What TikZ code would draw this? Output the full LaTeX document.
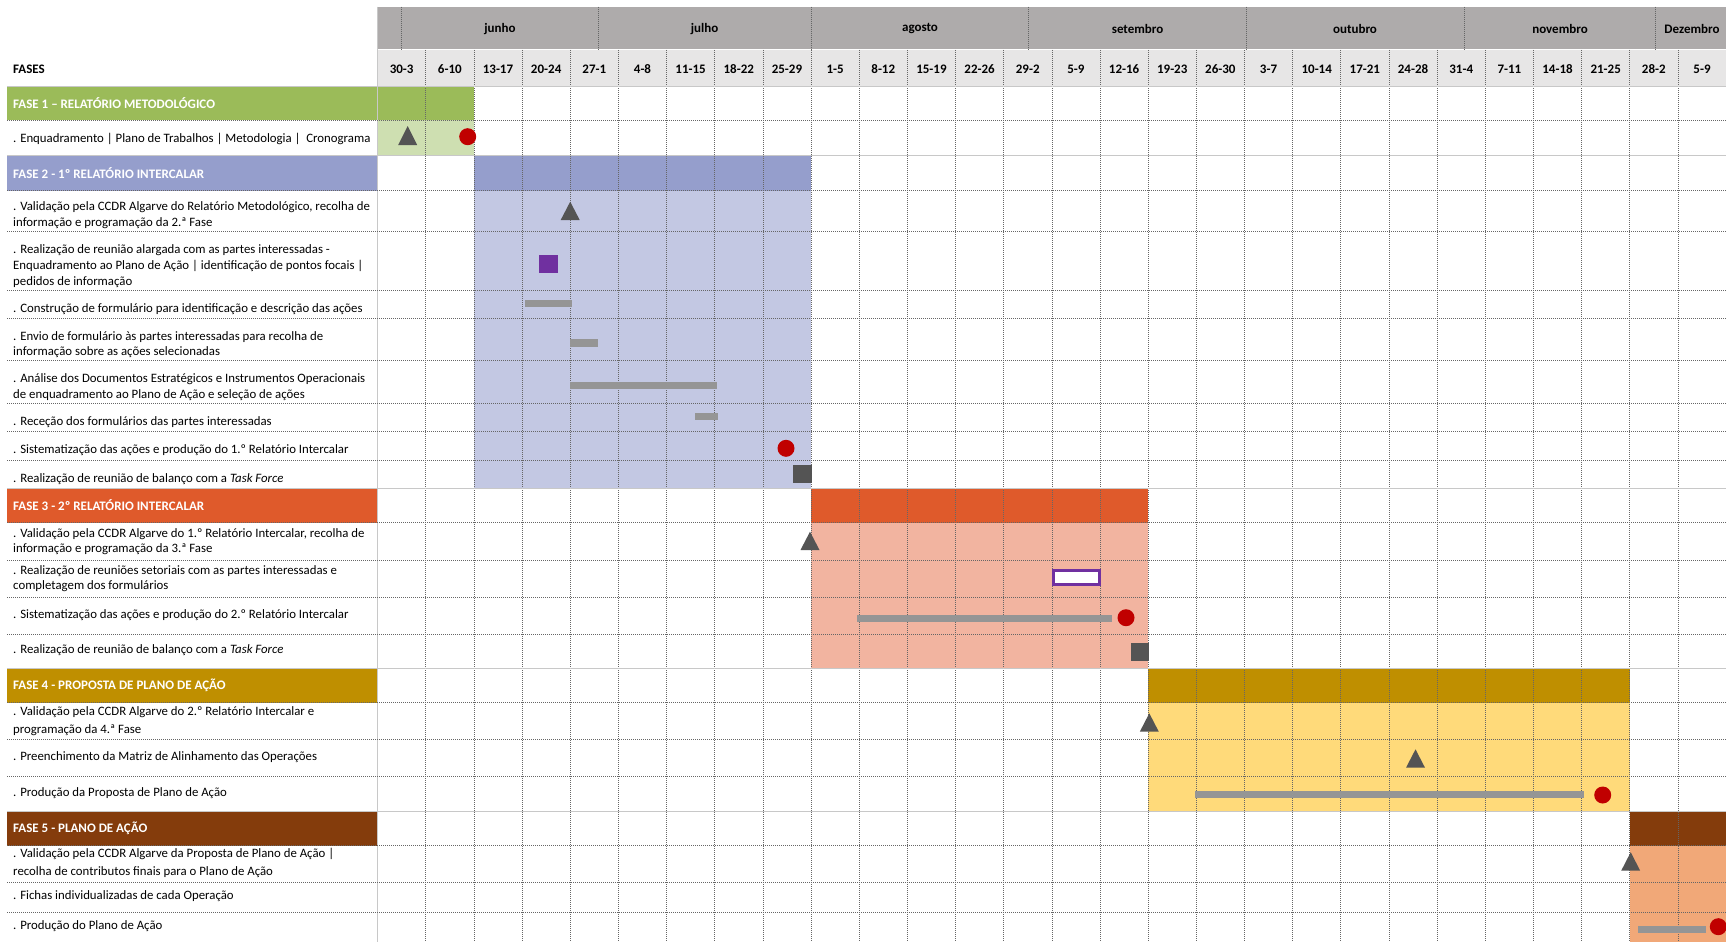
\documentclass[tikz,border=0pt]{standalone}
\usepackage{fontspec}
\setmainfont{Carlito}
\definecolor{monthgray}{HTML}{AEABAB}
\definecolor{weekgray}{HTML}{E7E6E6}
\definecolor{fAd}{HTML}{9BBB59}
\definecolor{fAl}{HTML}{CEDFB1}
\definecolor{fBd}{HTML}{959ECC}
\definecolor{fBl}{HTML}{C3C8E3}
\definecolor{fCd}{HTML}{DF5A2B}
\definecolor{fCl}{HTML}{F2B4A0}
\definecolor{fDd}{HTML}{BF8F00}
\definecolor{fDl}{HTML}{FFDA7A}
\definecolor{fEd}{HTML}{843C0C}
\definecolor{fEl}{HTML}{F1A878}
\definecolor{markdark}{HTML}{545454}
\definecolor{bargray}{HTML}{959595}
\definecolor{markred}{HTML}{C00000}
\definecolor{markpurple}{HTML}{7030A0}
\definecolor{gridline}{HTML}{666666}
\definecolor{solidline}{HTML}{C8C8C8}
\newcommand{\cx}[1]{377.6+48.16*#1}
\newcommand{\mytri}[3]{\fill[markdark] ({#1-9.5},#3) -- (#1,#2) -- ({#1+9.5},#3) -- cycle;}
\begin{document}
\begin{tikzpicture}[x=1pt,y=-1pt,
  rowtxt/.style={anchor=west, align=left, inner sep=0pt, font=\fontsize{12.8}{15.7}\selectfont},
  rowtxtw/.style={anchor=west, align=left, inner sep=0pt, font=\fontsize{12.8}{18}\selectfont},
  phasetxt/.style={anchor=west, inner sep=0pt, text=white, font=\fontsize{13}{15.7}\selectfont\bfseries},
  hdr/.style={inner sep=0pt, font=\fontsize{13}{15.7}\selectfont\bfseries},
  gridv/.style={gridline, line width=0.7pt, dash pattern=on 1pt off 1pt},
  gridh/.style={gridline, line width=0.7pt, dash pattern=on 1pt off 1pt},
  solidh/.style={solidline, line width=1pt},
  gbar/.style={fill=bargray},
  reddot/.style={fill=markred},
  darksq/.style={fill=markdark}]
\useasboundingbox (0,0) rectangle (1726,942);
\fill[white] (0,0) rectangle (1726,942);
% header
\fill[monthgray] (377.6,6.7) rectangle (1726,50);
\fill[weekgray] (377.6,50) rectangle (1726,86);
\draw[white, line width=1pt] (377.6,50) -- (1726,50);
% phase fills
\fill[fAd] (7,86) rectangle ({\cx{2}},120);
\fill[fAl] ({\cx{0}},120) rectangle ({\cx{2}},155.5);
\fill[fBd] (7,155.5) rectangle (377.6,190.5);
\fill[fBd] ({\cx{2}},155.5) rectangle ({\cx{9}},190.5);
\fill[fBl] ({\cx{2}},190.5) rectangle ({\cx{9}},488.5);
\fill[fCd] (7,488.5) rectangle (377.6,522.5);
\fill[fCd] ({\cx{9}},488.5) rectangle ({\cx{16}},522.5);
\fill[fCl] ({\cx{9}},522.5) rectangle ({\cx{16}},668.5);
\fill[fDd] (7,668.5) rectangle (377.6,702.5);
\fill[fDd] ({\cx{16}},668.5) rectangle ({\cx{26}},702.5);
\fill[fDl] ({\cx{16}},702.5) rectangle ({\cx{26}},811.5);
\fill[fEd] (7,811.5) rectangle (377.6,845.5);
\fill[fEd] ({\cx{26}},811.5) rectangle (1726,845.5);
\fill[fEl] ({\cx{26}},845.5) rectangle (1726,942);
% month dividers
\foreach \mx in {401.7,598,811,1028.5,1246.7,1464,1655.7}
  \draw[gridv] (\mx,6.7) -- (\mx,50);
% vertical grid
\foreach \k in {1,...,27}
  \draw[gridv] ({\cx{\k}},50) -- ({\cx{\k}},942);
\draw[solidh] (377.6,6.7) -- (377.6,942);
% horizontal grid
\foreach \yy in {120,190.5,231.5,290,318.5,360.5,403,431.5,460,522.5,560,597,634,702.5,739.5,776.5,845.5,882.5,912.5}
  \draw[gridh] (7,\yy) -- (1726,\yy);
\foreach \yy in {86,155.5,488.5,668.5,811.5}
  \draw[solidh] (7,\yy) -- (1726,\yy);
% header texts
\node[hdr, anchor=west] (fases) at (13,69) {FASES};
\node[hdr] (mjun) at (500,29) {junho};
\node[hdr] (mjul) at (704.5,29) {julho};
\node[hdr] (mago) at (920,29) {agosto};
\node[hdr] (mset) at (1137.6,29) {setembro};
\node[hdr] (mout) at (1355,29) {outubro};
\node[hdr] (mnov) at (1560,29) {novembro};
\node[hdr] (mdez) at (1692,29) {Dezembro};
\foreach \lab [count=\i from 0] in {30-3,6-10,13-17,20-24,27-1,4-8,11-15,18-22,25-29,1-5,8-12,15-19,22-26,29-2,5-9,12-16,19-23,26-30,3-7,10-14,17-21,24-28,31-4,7-11,14-18,21-25,28-2,5-9}
  \node[hdr] (w\i) at ({\cx{\i}+24.08},69) {\lab};
% phase titles
\node[phasetxt] (f1) at (13,103) {FASE 1 – RELATÓRIO METODOLÓGICO};
\node[phasetxt] (f2) at (13,173) {FASE 2 - 1º RELATÓRIO INTERCALAR};
\node[phasetxt] (f3) at (13,505.5) {FASE 3 - 2º RELATÓRIO INTERCALAR};
\node[phasetxt] (f4) at (13,685.5) {FASE 4 - PROPOSTA DE PLANO DE AÇÃO};
\node[phasetxt] (f5) at (13,828.5) {FASE 5 - PLANO DE AÇÃO};
% row texts
\node[rowtxt] (r1) at (13,138.5) {. Enquadramento | Plano de Trabalhos | Metodologia |\ \ Cronograma};
\node[rowtxt] (r2) at (13,215.5) {. Validação pela CCDR Algarve do Relatório Metodológico, recolha de\\informação e programação da 2.ª Fase};
\node[rowtxt] (r3) at (13,266) {. Realização de reunião alargada com as partes interessadas -\\Enquadramento ao Plano de Ação | identificação de pontos focais |\\pedidos de informação};
\node[rowtxt] (r4) at (13,309.5) {. Construção de formulário para identificação e descrição das ações};
\node[rowtxt] (r5) at (13,344.5) {. Envio de formulário às partes interessadas para recolha de\\informação sobre as ações selecionadas};
\node[rowtxt] (r6) at (13,387) {. Análise dos Documentos Estratégicos e Instrumentos Operacionais\\de enquadramento ao Plano de Ação e seleção de ações};
\node[rowtxt] (r7) at (13,422) {. Receção dos formulários das partes interessadas};
\node[rowtxt] (r8) at (13,450.5) {. Sistematização das ações e produção do 1.º Relatório Intercalar};
\node[rowtxt] (r9) at (13,479) {. Realização de reunião de balanço com a \textit{Task Force}};
\node[rowtxt] (r10) at (13,541.5) {. Validação pela CCDR Algarve do 1.º Relatório Intercalar, recolha de\\informação e programação da 3.ª Fase};
\node[rowtxt] (r11) at (13,578.5) {. Realização de reuniões setoriais com as partes interessadas e\\completagem dos formulários};
\node[rowtxt] (r12) at (13,615.5) {. Sistematização das ações e produção do 2.º Relatório Intercalar};
\node[rowtxt] (r13) at (13,650.5) {. Realização de reunião de balanço com a \textit{Task Force}};
\node[rowtxtw] (r14) at (13,721) {. Validação pela CCDR Algarve do 2.º Relatório Intercalar e\\programação da 4.ª Fase};
\node[rowtxt] (r15) at (13,757.5) {. Preenchimento da Matriz de Alinhamento das Operações};
\node[rowtxt] (r16) at (13,793) {. Produção da Proposta de Plano de Ação};
\node[rowtxtw] (r17) at (13,863) {. Validação pela CCDR Algarve da Proposta de Plano de Ação |\\recolha de contributos finais para o Plano de Ação};
\node[rowtxt] (r18) at (13,896.5) {. Fichas individualizadas de cada Operação};
\node[rowtxt] (r19) at (13,926.5) {. Produção do Plano de Ação};
% markers
\mytri{407.7}{126}{145}
\fill[reddot] (467.7,136.7) circle (8.5);
\mytri{570.2}{201.7}{220}
\fill[markpurple] (539,255) rectangle (557.7,273.3);
\fill[gbar] (525,300) rectangle (572.3,307.3);
\fill[gbar] (570,339.3) rectangle (598,346.7);
\fill[gbar] (570,381.7) rectangle (717.3,389);
\fill[gbar] (695,412.7) rectangle (718.3,420);
\fill[reddot] (786,448.3) circle (8.5);
\fill[darksq] (793.3,465) rectangle (811.7,483.3);
\mytri{810}{531.7}{550}
\draw[markpurple, line width=2.6pt, fill=white] (1053.6,570.3) rectangle (1099.4,584.4);
\fill[gbar] (857.3,615) rectangle (1112.3,622.3);
\fill[reddot] (1126,617.7) circle (8.5);
\fill[darksq] (1130.7,642.7) rectangle (1149.3,660.7);
\mytri{1149.3}{713.3}{731.7}
\mytri{1415.5}{749.3}{767.7}
\fill[gbar] (1195,791) rectangle (1584,798.3);
\fill[reddot] (1602.7,795) circle (8.5);
\mytri{1630.7}{852.2}{870.7}
\fill[gbar] (1638.3,926) rectangle (1705.7,933.3);
\fill[reddot] (1718.3,926.7) circle (8.5);
\end{tikzpicture}
\end{document}
